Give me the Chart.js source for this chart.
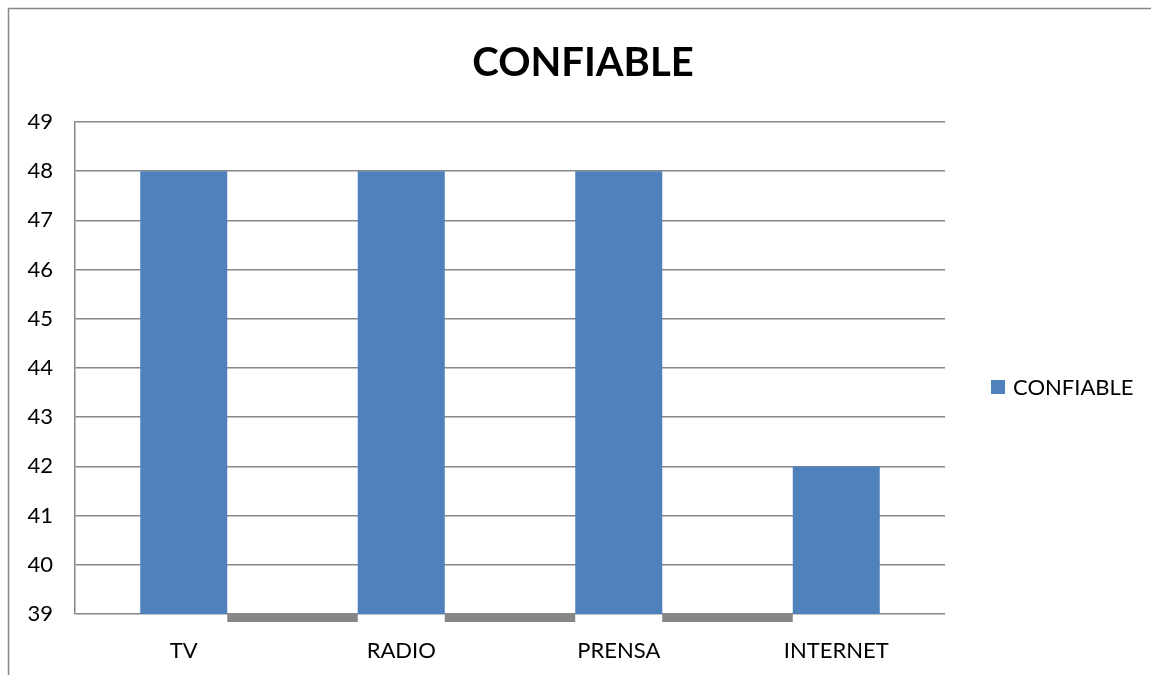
<!DOCTYPE html>
<html lang="es">
<head>
<meta charset="utf-8">
<title>CONFIABLE</title>
<script src="https://cdn.jsdelivr.net/npm/chart.js@4/dist/chart.umd.min.js"></script>
<style>
  html, body { margin: 0; padding: 0; background: #ffffff; }
  #wrap { position: relative; width: 1151px; height: 675px; }
  canvas { display: block; }
</style>
</head>
<body>
<div id="wrap"><canvas id="chart" width="1151" height="675"></canvas></div>
<script>
// Medios y porcentaje de confianza
const categories = ['TV', 'RADIO', 'PRENSA', 'INTERNET'];
const confiable = [48, 48, 48, 42];
const seriesName = 'CONFIABLE';
const chartTitle = 'CONFIABLE';
const yTicks = [39, 40, 41, 42, 43, 44, 45, 46, 47, 48, 49];

const BLUE = '#4F81BD';
const GRID = '#878787';
const FONT = 'Lato, "Open Sans", sans-serif';

// Marco exterior (borde superior e izquierdo del área del gráfico)
const framePlugin = {
  id: 'frame',
  beforeDraw(chart) {
    const ctx = chart.ctx;
    ctx.save();
    ctx.strokeStyle = GRID;
    ctx.lineWidth = 1.5;
    ctx.beginPath();
    ctx.moveTo(8.5, chart.height);
    ctx.lineTo(8.5, 8.5);
    ctx.lineTo(chart.width, 8.5);
    ctx.stroke();
    ctx.restore();
  }
};

// Título centrado sobre todo el lienzo
const headlinePlugin = {
  id: 'headline',
  afterDraw(chart) {
    const ctx = chart.ctx;
    ctx.save();
    ctx.fillStyle = '#000000';
    ctx.font = 'bold 40px ' + FONT;
    ctx.textAlign = 'center';
    ctx.textBaseline = 'middle';
    ctx.fillText(chartTitle, 583, 63);
    ctx.restore();
  }
};

// Tramos gruesos del eje horizontal entre columnas
const axisSegmentsPlugin = {
  id: 'axisSegments',
  afterDatasetsDraw(chart) {
    const bars = chart.getDatasetMeta(0).data;
    const bottom = chart.chartArea.bottom;
    const ctx = chart.ctx;
    ctx.save();
    ctx.fillStyle = GRID;
    for (let i = 0; i < bars.length - 1; i++) {
      const a = bars[i], b = bars[i + 1];
      const x0 = a.x + a.width / 2;
      const x1 = b.x - b.width / 2;
      ctx.fillRect(x0, bottom - 1, x1 - x0, 9);
    }
    ctx.restore();
  }
};

// Leyenda a la derecha
const sideLegendPlugin = {
  id: 'sideLegend',
  afterDraw(chart) {
    const ds = chart.data.datasets[0];
    const ctx = chart.ctx;
    ctx.save();
    ctx.fillStyle = ds.backgroundColor;
    ctx.fillRect(991, 380, 14, 14);
    ctx.fillStyle = '#000000';
    ctx.font = '22px ' + FONT;
    ctx.textAlign = 'left';
    ctx.textBaseline = 'middle';
    ctx.fillText(ds.label, 1013, 388);
    ctx.restore();
  }
};

function build() {
  new Chart(document.getElementById('chart'), {
    type: 'bar',
    data: {
      labels: categories,
      datasets: [{
        label: seriesName,
        data: confiable,
        backgroundColor: BLUE,
        borderWidth: 0,
        categoryPercentage: 1.0,
        barPercentage: 0.4
      }]
    },
    options: {
      responsive: false,
      animation: false,
      events: [],
      layout: { padding: { top: 122, right: 206, left: 0, bottom: 0 } },
      plugins: {
        legend: { display: false },
        title: { display: false },
        tooltip: { enabled: false }
      },
      scales: {
        x: {
          grid: { display: false, drawTicks: false },
          border: { display: false },
          ticks: {
            color: '#000000',
            padding: 24,
            font: { family: FONT, size: 22, lineHeight: 1.2 }
          },
          afterFit(scale) { scale.height = 61; }
        },
        y: {
          min: yTicks[0],
          max: yTicks[yTicks.length - 1],
          afterBuildTicks(scale) { scale.ticks = yTicks.map(v => ({ value: v })); },
          grid: { color: GRID, lineWidth: 1.5, drawTicks: false },
          border: { color: GRID, width: 1.5 },
          ticks: {
            color: '#000000',
            padding: 22,
            font: { family: FONT, size: 22, lineHeight: 1.2 }
          },
          afterFit(scale) { scale.width = 75; }
        }
      }
    },
    plugins: [framePlugin, axisSegmentsPlugin, headlinePlugin, sideLegendPlugin]
  });
}

Promise.all([
  document.fonts.load('22px Lato'),
  document.fonts.load('bold 40px Lato')
]).then(build, build);
</script>
</body>
</html>
